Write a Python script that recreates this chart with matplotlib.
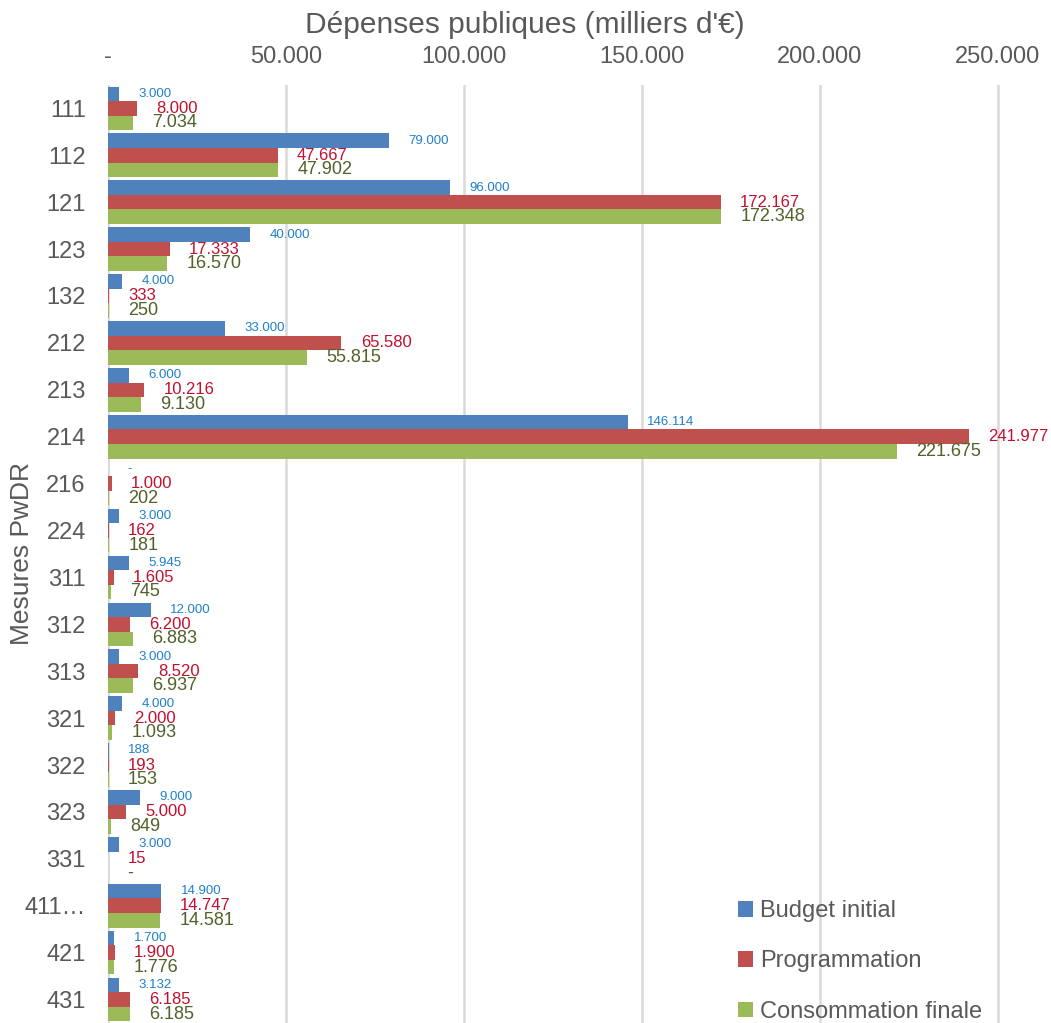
import matplotlib.pyplot as plt
import numpy as np

plt.rcParams['font.family'] = ['Liberation Sans', 'DejaVu Sans']

categories = ['111', '112', '121', '123', '132', '212', '213', '214', '216', '224',
              '311', '312', '313', '321', '322', '323', '331', '411…', '421', '431']
budget = [3000, 79000, 96000, 40000, 4000, 33000, 6000, 146114, 0, 3000,
          5945, 12000, 3000, 4000, 188, 9000, 3000, 14900, 1700, 3132]
programmation = [8000, 47667, 172167, 17333, 333, 65580, 10216, 241977, 1000, 162,
                 1605, 6200, 8520, 2000, 193, 5000, 15, 14747, 1900, 6185]
consommation = [7034, 47902, 172348, 16570, 250, 55815, 9130, 221675, 202, 181,
                745, 6883, 6937, 1093, 153, 849, 0, 14581, 1776, 6185]
xticks = [0, 50000, 100000, 150000, 200000, 250000]

series = [
    ('Budget initial', budget, '#4F81BD', '#1F7FCC', 9.5),
    ('Programmation', programmation, '#C0504D', '#C0102E', 12),
    ('Consommation finale', consommation, '#9BBB59', '#4F6228', 13),
]


def fmt(v):
    if v == 0:
        return '-'
    return f'{v:,.0f}'.replace(',', '.')


fig = plt.figure(figsize=(10.51, 10.23), dpi=100)
ax = fig.add_axes([0.1028, 0.0, 0.8972, 0.917])

y = np.arange(len(categories))
h = 0.31
for i, (name, vals, col, lcol, fs) in enumerate(series):
    pos = y + (i - 1) * h
    ax.barh(pos, vals, height=h, color=col, label=name, zorder=3)
    for p, v in zip(pos, vals):
        ax.annotate(fmt(v), (v, p), xytext=(14, 0), textcoords='offset points',
                    ha='left', va='center', color=lcol, fontsize=fs, zorder=4)

ax.set_ylim(len(categories) - 0.5, -0.5)
ax.set_xlim(0, 265000)
ax.set_yticks(y)
ax.set_yticklabels(categories, fontsize=17, color='#595959')
ax.xaxis.tick_top()
ax.xaxis.set_label_position('top')
ax.set_xticks(xticks)
ax.set_xticklabels([fmt(t) for t in xticks], fontsize=17, color='#595959')
ax.tick_params(length=0)
ax.tick_params(axis='x', pad=12)
ax.tick_params(axis='y', pad=16)
ax.set_xlabel("Dépenses publiques (milliers d'€)", fontsize=21.5, color='#595959')
ax.xaxis.set_label_coords(0.442, 1.055)
ax.set_ylabel('Mesures PwDR', fontsize=19, color='#595959')
ax.yaxis.set_label_coords(-0.078, 0.5)
ax.grid(axis='x', color='#D9D9D9', linewidth=1.8, zorder=0)
for s in ax.spines.values():
    s.set_visible(False)
ax.axvline(0, color='#D9D9D9', linewidth=1.8, zorder=1)

leg = fig.legend(loc='lower left', bbox_to_anchor=(0.693, -0.009), frameon=False,
                 fontsize=17, labelcolor='#595959', handlelength=0.65, handleheight=0.65,
                 handletextpad=0.3, labelspacing=1.2, borderaxespad=0)

fig.savefig('out.png', dpi=100)
